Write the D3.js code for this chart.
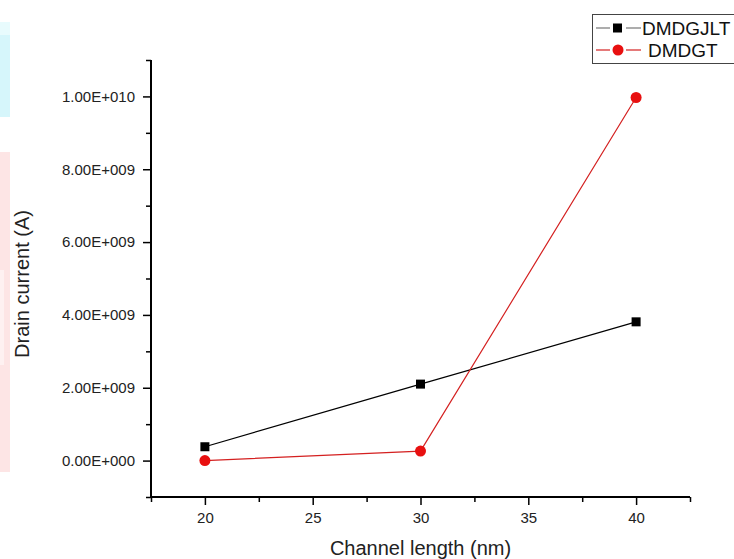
<!DOCTYPE html>
<html>
<head>
<meta charset="utf-8">
<script src="https://cdn.jsdelivr.net/npm/d3@7"></script>
<style>
	body { margin: 0; background: #fff; }
	svg { display: block; font-family: Arial, "Liberation Sans", sans-serif; }
</style>
</head>
<body>
<div id="wrapper"></div>
<script>
const channelLength = [20, 30, 40];
const dmdgjlt = [0.38e9, 2.10e9, 3.81e9];
const dmdgt = [0.0, 0.26e9, 9.97e9];
const seriesNames = ["DMDGJLT", "DMDGT"];
const xTickValues = [20, 25, 30, 35, 40];
const yTickValues = [0, 2e9, 4e9, 6e9, 8e9, 1e10];
const yTickLabels = ["0.00E+000", "2.00E+009", "4.00E+009", "6.00E+009", "8.00E+009", "1.00E+010"];

function drawChart() {
	let dimensions = {
		width: 734,
		height: 559,
		margin: { top: 60, right: 44, bottom: 62, left: 151 }
	};
	dimensions.boundedWidth = dimensions.width - dimensions.margin.left - dimensions.margin.right;
	dimensions.boundedHeight = dimensions.height - dimensions.margin.top - dimensions.margin.bottom;

	const wrapper = d3.select("#wrapper").append("svg")
		.attr("width", dimensions.width)
		.attr("height", dimensions.height);

	wrapper.append("rect")
		.attr("width", dimensions.width)
		.attr("height", dimensions.height)
		.attr("fill", "#fff");

	// faint watermark strips at the left edge
	wrapper.append("rect").attr("x", 0).attr("y", 22).attr("width", 10).attr("height", 13).attr("fill", "#e8fbfd");
	wrapper.append("rect").attr("x", 0).attr("y", 35).attr("width", 10).attr("height", 82).attr("fill", "#d6f6fb");
	wrapper.append("rect").attr("x", 0).attr("y", 152).attr("width", 10).attr("height", 320).attr("fill", "#fde5e5");
	wrapper.append("rect").attr("x", 0).attr("y", 270).attr("width", 4).attr("height", 95).attr("fill", "#fef1f1");

	const container = wrapper.append("g")
		.attr("transform", `translate(${dimensions.margin.left},${dimensions.margin.top})`);

	const xScale = d3.scaleLinear()
		.domain([17.5, 42.5])
		.range([0, dimensions.boundedWidth]);

	const yScale = d3.scaleLinear()
		.domain([-1e9, 1.1e10])
		.range([dimensions.boundedHeight, 0]);

	// minor ticks
	const xMinor = d3.axisBottom(xScale).tickValues(d3.range(17.5, 43, 5)).tickSize(5).tickFormat("");
	const yMinor = d3.axisLeft(yScale).tickValues(d3.range(-1e9, 1.2e10, 2e9)).tickSize(5).tickFormat("");

	const xAxisGen = d3.axisBottom(xScale).tickValues(xTickValues).tickSize(8).tickPadding(7);
	const yAxisGen = d3.axisLeft(yScale).tickValues(yTickValues).tickSize(8).tickPadding(8)
		.tickFormat((d, i) => yTickLabels[i]);

	const xm = container.append("g").attr("transform", `translate(0,${dimensions.boundedHeight})`).call(xMinor);
	const ym = container.append("g").call(yMinor);
	const axisX = container.append("g").attr("transform", `translate(0,${dimensions.boundedHeight})`).call(xAxisGen);
	const axisY = container.append("g").call(yAxisGen);

	[xm, ym, axisX, axisY].forEach(a => {
		a.select(".domain").attr("stroke", "#000").attr("stroke-width", 2);
		a.selectAll(".tick line").attr("stroke", "#000").attr("stroke-width", 1.5);
		a.selectAll("text").attr("font-size", 15).attr("fill", "#222")
			.attr("font-family", "Arial, 'Liberation Sans', sans-serif");
	});
	xm.select(".domain").remove();
	ym.select(".domain").remove();
	axisX.select(".domain").attr("d", `M0,0H${dimensions.boundedWidth}`);
	axisY.select(".domain").attr("d", `M0,${dimensions.boundedHeight}V0`);

	// axis titles
	wrapper.append("text")
		.attr("x", dimensions.margin.left + dimensions.boundedWidth / 2 - 0)
		.attr("y", 555)
		.attr("text-anchor", "middle")
		.attr("font-size", 20)
		.attr("fill", "#222")
		.text("Channel length (nm)");

	wrapper.append("text")
		.attr("transform", "translate(29,284) rotate(-90)")
		.attr("text-anchor", "middle")
		.attr("font-size", 20)
		.attr("fill", "#222")
		.text("Drain current (A)");

	const lineGen = vals => d3.line()
		.x((d, i) => xScale(channelLength[i]))
		.y(d => yScale(d))(vals);

	// DMDGJLT
	container.append("path")
		.attr("d", lineGen(dmdgjlt))
		.attr("fill", "none")
		.attr("stroke", "#000")
		.attr("stroke-width", 1.2);

	// DMDGT
	container.append("path")
		.attr("d", lineGen(dmdgt))
		.attr("fill", "none")
		.attr("stroke", "#d42020")
		.attr("stroke-width", 1.2);

	container.append("g").selectAll("rect")
		.data(dmdgjlt)
		.enter()
		.append("rect")
		.attr("x", (d, i) => xScale(channelLength[i]) - 4.5)
		.attr("y", d => yScale(d) - 4.5)
		.attr("width", 9)
		.attr("height", 9)
		.attr("fill", "#000");

	container.append("g").selectAll("circle")
		.data(dmdgt)
		.enter()
		.append("circle")
		.attr("cx", (d, i) => xScale(channelLength[i]))
		.attr("cy", d => yScale(d))
		.attr("r", 5.5)
		.attr("fill", "#e81010");

	// legend
	const legend = wrapper.append("g");
	legend.append("rect")
		.attr("x", 592.5)
		.attr("y", 14.5)
		.attr("width", 160)
		.attr("height", 49)
		.attr("fill", "#fff")
		.attr("stroke", "#444")
		.attr("stroke-width", 1);

	const legendRows = [
		{ name: seriesNames[0], y: 28, color: "#777", marker: "square", tx: 642 },
		{ name: seriesNames[1], y: 50, color: "#d42020", marker: "circle", tx: 648 }
	];
	legendRows.forEach(r => {
		legend.append("line")
			.attr("x1", 596).attr("x2", 610)
			.attr("y1", r.y).attr("y2", r.y)
			.attr("stroke", r.color).attr("stroke-width", 1.2);
		legend.append("line")
			.attr("x1", 626).attr("x2", 641)
			.attr("y1", r.y).attr("y2", r.y)
			.attr("stroke", r.color).attr("stroke-width", 1.2);
		if (r.marker === "square") {
			legend.append("rect").attr("x", 613).attr("y", r.y - 4.5).attr("width", 9).attr("height", 9).attr("fill", "#000");
		} else {
			legend.append("circle").attr("cx", 618).attr("cy", r.y).attr("r", 5.5).attr("fill", "#e81010");
		}
		legend.append("text")
			.attr("x", r.tx)
			.attr("y", r.y + 7)
			.attr("font-size", 19)
			.attr("fill", "#111")
			.text(r.name);
	});
}

drawChart();
</script>
</body>
</html>
